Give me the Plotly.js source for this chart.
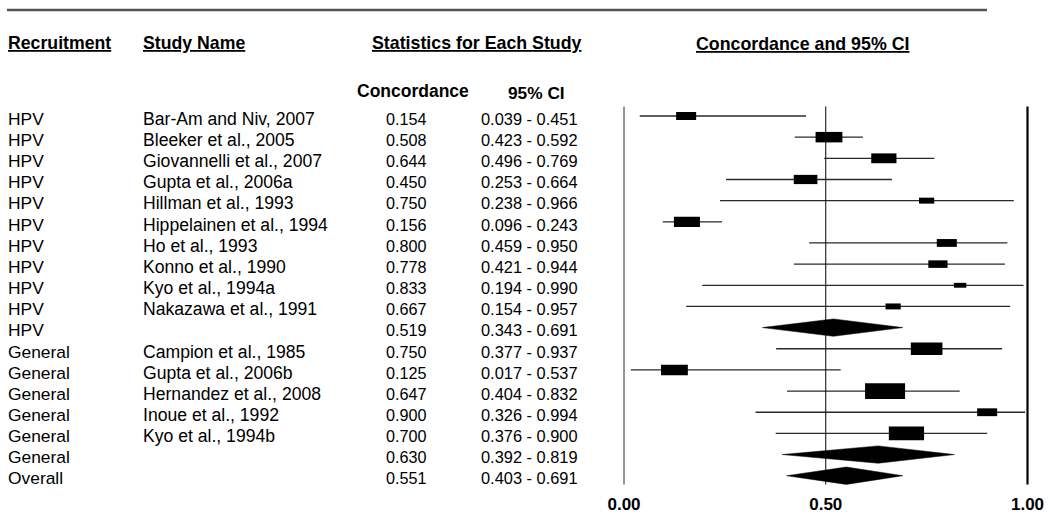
<!DOCTYPE html>
<html><head><meta charset="utf-8">
<script src="https://cdn.plot.ly/plotly-3.0.1.min.js"></script>
<style>html,body{margin:0;padding:0;background:#fff}</style>
</head><body><div id="chart" style="width:1050px;height:528px"></div>
<script>
const recruitment = ['HPV','HPV','HPV','HPV','HPV','HPV','HPV','HPV','HPV','HPV','HPV',
  'General','General','General','General','General','General','Overall'];
const studyNames = ['Bar-Am and Niv, 2007','Bleeker et al., 2005','Giovannelli et al., 2007',
  'Gupta et al., 2006a','Hillman et al., 1993','Hippelainen et al., 1994','Ho et al., 1993',
  'Konno et al., 1990','Kyo et al., 1994a','Nakazawa et al., 1991','',
  'Campion et al., 1985','Gupta et al., 2006b','Hernandez et al., 2008','Inoue et al., 1992',
  'Kyo et al., 1994b','',''];
const concordance = [0.154,0.508,0.644,0.450,0.750,0.156,0.800,0.778,0.833,0.667,0.519,
  0.750,0.125,0.647,0.900,0.700,0.630,0.551];
const ciLower = [0.039,0.423,0.496,0.253,0.238,0.096,0.459,0.421,0.194,0.154,0.343,
  0.377,0.017,0.404,0.326,0.376,0.392,0.403];
const ciUpper = [0.451,0.592,0.769,0.664,0.966,0.243,0.950,0.944,0.990,0.957,0.691,
  0.937,0.537,0.832,0.994,0.900,0.819,0.691];
// relative study weight (box size); null = pooled (diamond)
const relWeight = [0.50,0.67,0.63,0.59,0.38,0.65,0.50,0.48,0.31,0.38,null,
  0.79,0.67,1.00,0.50,0.88,null,null];
const tickVals = [0, 0.5, 1];
const tickLabels = ['0.00','0.50','1.00'];

const FONT = 'Liberation Sans, Arial, sans-serif';
const W = 1050;
const rowPx = 21.16, row1Px = 116;
const pxToRow = px => 1 + (px - row1Px) / rowPx;
const rows = concordance.map((_, i) => i + 1);

// CI lines for individual studies
const lx = [], ly = [];
rows.forEach((r, i) => {
  if (relWeight[i] !== null) { lx.push(ciLower[i], ciUpper[i], null); ly.push(r, r, null); }
});
const traces = [{
  type: 'scatter', mode: 'lines', x: lx, y: ly,
  line: {color: '#2a2a2a', width: 1.3}, hoverinfo: 'skip', showlegend: false
}];
// diamonds for pooled estimates
const dh = 0.41;
rows.forEach((r, i) => {
  if (relWeight[i] === null) {
    traces.push({
      type: 'scatter', mode: 'lines', fill: 'toself', fillcolor: '#000',
      x: [ciLower[i], concordance[i], ciUpper[i], concordance[i], ciLower[i]],
      y: [r, r - dh, r, r + dh, r],
      line: {color: '#000', width: 0.5}, hoverinfo: 'skip', showlegend: false
    });
  }
});

const shapes = [];
// top rule
shapes.push({type: 'line', xref: 'paper', yref: 'y', x0: 7 / W, x1: 987 / W,
  y0: pxToRow(10), y1: pxToRow(10), line: {color: '#555', width: 2.5}});
// reference lines
const vTop = pxToRow(106.5), vBot = pxToRow(484.5);
shapes.push({type: 'line', xref: 'x', yref: 'y', x0: 0, x1: 0, y0: vTop, y1: vBot, line: {color: '#7a7a7a', width: 1.6}});
shapes.push({type: 'line', xref: 'x', yref: 'y', x0: 0.5, x1: 0.5, y0: vTop, y1: vBot, line: {color: '#000', width: 1}});
shapes.push({type: 'line', xref: 'x', yref: 'y', x0: 1, x1: 1, y0: vTop, y1: vBot, line: {color: '#000', width: 2.2}});
// boxes
rows.forEach((r, i) => {
  const w = relWeight[i];
  if (w !== null) {
    const hw = w * 0.0496, hh = w * 0.37;
    shapes.push({type: 'rect', xref: 'x', yref: 'y',
      x0: concordance[i] - hw, x1: concordance[i] + hw, y0: r - hh, y1: r + hh,
      fillcolor: '#000', line: {width: 0}});
  }
});

const ann = [];
const txt = (text, px, row, anchor, size, bold) => ann.push({
  text: text, xref: 'paper', yref: 'y', x: px / W, y: row, xanchor: anchor, yanchor: 'middle',
  showarrow: false, font: {family: FONT, size: size, color: '#000', weight: bold ? 'bold' : 'normal'}
});
const U = s => '<span style="text-decoration:underline">' + s + '</span>';
txt(U('Recruitment'), 6, pxToRow(43), 'left', 17.7, true);
txt(U('Study Name'), 141, pxToRow(43), 'left', 17.7, true);
txt(U('Statistics for Each Study'), 477, pxToRow(43), 'center', 17.8, true);
txt(U('Concordance and 95% CI'), 802, pxToRow(44), 'center', 17.8, true);
txt('Concordance', 413, pxToRow(91), 'center', 17.5, true);
txt('95% CI', 536, pxToRow(93), 'center', 17.3, true);
const off = 0.13;
rows.forEach((r, i) => {
  txt(recruitment[i], 6, r + off, 'left', 17.4, false);
  if (studyNames[i]) txt(studyNames[i], 141, r + off, 'left', 17.6, false);
  txt(concordance[i].toFixed(3), 406, r + off, 'center', 16.2, false);
  txt(ciLower[i].toFixed(3) + ' - ' + ciUpper[i].toFixed(3), 529.5, r + off, 'center', 16.4, false);
});

const ppu = 403.5, x0px = 624, pad = 0.01, plotBottom = 492;
const layout = {
  width: 1050, height: 528, margin: {l: 0, r: 0, t: 0, b: 528 - plotBottom},
  paper_bgcolor: '#fff', plot_bgcolor: '#fff',
  xaxis: {domain: [(x0px - pad * ppu) / W, (x0px + (1 + pad) * ppu) / W], range: [-pad, 1 + pad],
    showgrid: false, zeroline: false, showline: false, ticks: '',
    tickmode: 'array', tickvals: tickVals, ticktext: tickLabels,
    tickfont: {family: FONT, size: 17, color: '#000', weight: 'bold'}, fixedrange: true},
  yaxis: {range: [pxToRow(plotBottom), pxToRow(0)], showgrid: false, zeroline: false, showline: false,
    showticklabels: false, ticks: '', fixedrange: true},
  shapes: shapes, annotations: ann, showlegend: false
};
Plotly.newPlot('chart', traces, layout, {staticPlot: true, displayModeBar: false});
</script></body></html>
